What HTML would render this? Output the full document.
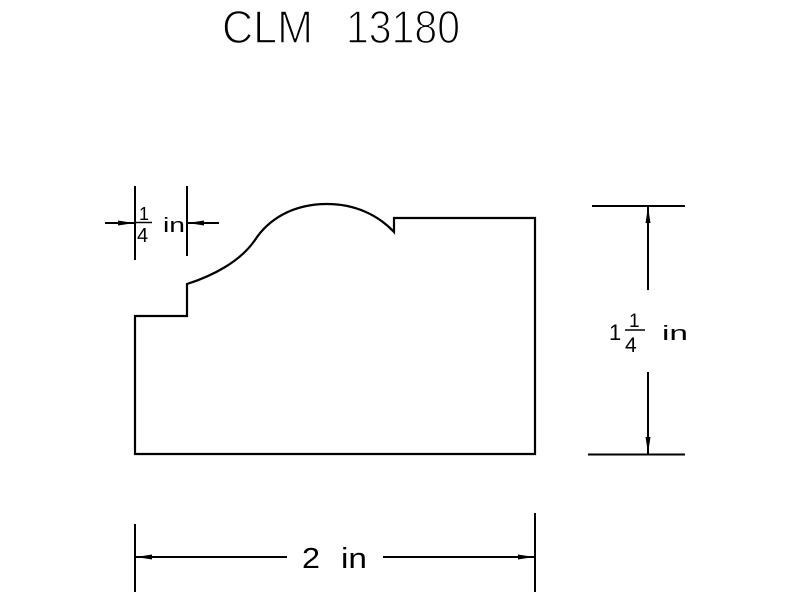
<!DOCTYPE html>
<html><head><meta charset="utf-8"><style>
html,body{margin:0;padding:0;background:#fff;}
svg{display:block;}
text{font-family:"Liberation Sans",sans-serif;fill:#000;}
</style></head><body>
<svg width="800" height="600" viewBox="0 0 800 600" xmlns="http://www.w3.org/2000/svg">
<rect width="800" height="600" fill="#fff"/>
<!-- Title -->
<text x="222" y="43" font-size="46" textLength="91" lengthAdjust="spacingAndGlyphs" stroke="#fff" stroke-width="1.4">CLM</text>
<text x="346" y="43" font-size="46" textLength="114" lengthAdjust="spacingAndGlyphs" stroke="#fff" stroke-width="1.4">13180</text>

<!-- Profile -->
<path d="M187,284 C212,276 240,262 255,240 C268,220 292,204 327,204 C355,204 378,215 394,232 L394,218 L535,218 L535,454 L135,454 L135,316 L187,316 Z" fill="none" stroke="#000" stroke-width="2.2" stroke-linejoin="miter"/>

<g stroke="#000" stroke-width="2" fill="none">
  <!-- top-left 1/4 dim -->
  <line x1="135" y1="186" x2="135" y2="260"/>
  <line x1="187" y1="186" x2="187" y2="256"/>
  <line x1="105" y1="223" x2="135" y2="223"/>
  <line x1="187" y1="223" x2="219" y2="223"/>
  <line x1="136" y1="222.5" x2="152" y2="222.5" stroke-width="1.5"/>
  <!-- right 1 1/4 dim -->
  <line x1="592" y1="206" x2="685" y2="206"/>
  <line x1="588" y1="454.5" x2="685" y2="454.5"/>
  <line x1="648" y1="206" x2="648" y2="290"/>
  <line x1="648" y1="372" x2="648" y2="454"/>
  <line x1="625" y1="330" x2="645" y2="330" stroke-width="1.6"/>
  <!-- bottom 2 in dim -->
  <line x1="135" y1="524" x2="135" y2="592"/>
  <line x1="535" y1="513" x2="535" y2="592"/>
  <line x1="135" y1="557" x2="287" y2="557"/>
  <line x1="383" y1="557" x2="535" y2="557"/>
</g>

<!-- arrowheads -->
<g fill="#000">
  <polygon points="134,223 118,220.5 118,225.5"/>
  <polygon points="188,223 204,220.5 204,225.5"/>
  <polygon points="648,207 645.5,223 650.5,223"/>
  <polygon points="648,453 645.5,437 650.5,437"/>
  <polygon points="136,557 152,554.5 152,559.5"/>
  <polygon points="534,557 518,554.5 518,559.5"/>
</g>

<!-- labels -->
<text x="139" y="220" font-size="18">1</text>
<text x="137" y="242" font-size="20">4</text>
<text x="163" y="232" font-size="20" textLength="22" lengthAdjust="spacingAndGlyphs">in</text>

<text x="609" y="340" font-size="22">1</text>
<text x="629" y="327" font-size="19">1</text>
<text x="625" y="352" font-size="21">4</text>
<text x="662" y="340" font-size="20" textLength="26" lengthAdjust="spacingAndGlyphs">in</text>

<text x="302" y="568" font-size="29" textLength="18" lengthAdjust="spacingAndGlyphs">2</text>
<text x="341" y="568" font-size="29" textLength="26" lengthAdjust="spacingAndGlyphs">in</text>
</svg>
</body></html>
